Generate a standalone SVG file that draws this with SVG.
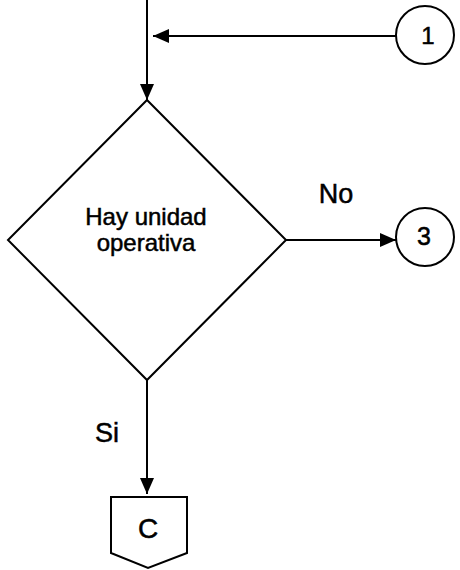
<svg xmlns="http://www.w3.org/2000/svg" width="460" height="570" viewBox="0 0 460 570">
<style>
.s{fill:#fff;stroke:#000;stroke-width:2}
.c{fill:none;stroke:#000;stroke-width:2}
text{font-family:"Liberation Sans",Arial,sans-serif;fill:#000;stroke:#000;stroke-width:0.5}
</style>
<defs>
<marker id="b" viewBox="0 0 16 14" refX="16" refY="7" markerWidth="16" markerHeight="14" orient="auto" markerUnits="userSpaceOnUse">
<path d="M0,0 L16,7 L0,14 z" fill="#000"/>
</marker>
</defs>
<g id="connectors">
<path class="c" d="M147,0 V100" marker-end="url(#b)"/>
<path class="c" d="M396,36 H153" marker-end="url(#b)"/>
<path class="c" d="M286,240 H396" marker-end="url(#b)"/>
<path class="c" d="M147,380 V494" marker-end="url(#b)"/>
<text x="336" y="203" font-size="27" text-anchor="middle">No</text>
<text x="95" y="442" font-size="27">Si</text>
</g>
<g id="c1">
<circle class="s" cx="425" cy="35" r="29"/>
<text x="428" y="44" font-size="24" text-anchor="middle">1</text>
</g>
<g id="decision">
<polygon class="s" points="147,100 286,240 147,380 8,240"/>
<text x="146" y="225" font-size="24" text-anchor="middle">Hay unidad</text>
<text x="146" y="251" font-size="24" text-anchor="middle">operativa</text>
</g>
<g id="c3">
<circle class="s" cx="425" cy="237" r="29"/>
<text x="424" y="245" font-size="25" text-anchor="middle">3</text>
</g>
<g id="offpage">
<polygon class="s" points="111,497 187,497 187,553 148,568 111,553"/>
<text x="148" y="538" font-size="28" text-anchor="middle">C</text>
</g>
</svg>
